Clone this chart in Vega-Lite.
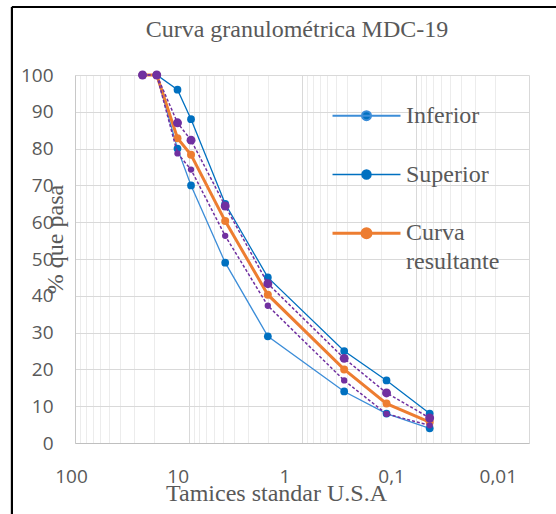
{
  "$schema": "https://vega.github.io/schema/vega-lite/v6.json",
  "width": 454,
  "height": 368,
  "autosize": {"type": "none"},
  "padding": {"left": 75, "top": 75, "right": 27, "bottom": 71},
  "background": "white",
  "title": {
    "text": "Curva granulométrica MDC-19",
    "font": "Liberation Serif",
    "fontSize": 24,
    "fontWeight": "normal",
    "color": "#595959",
    "frame": "group",
    "anchor": "middle",
    "offset": -55,
    "baseline": "alphabetic",
    "dx": -5
  },
  "data": {
    "values": [
      {"serie": "Superior", "d": 25.4, "p": 100},
      {"serie": "Superior", "d": 19.05, "p": 100},
      {"serie": "Superior", "d": 12.5, "p": 96},
      {"serie": "Superior", "d": 9.5, "p": 88},
      {"serie": "Superior", "d": 4.75, "p": 65},
      {"serie": "Superior", "d": 2.0, "p": 45},
      {"serie": "Superior", "d": 0.425, "p": 25},
      {"serie": "Superior", "d": 0.18, "p": 17},
      {"serie": "Superior", "d": 0.075, "p": 8},
      {"serie": "Inferior", "d": 25.4, "p": 100},
      {"serie": "Inferior", "d": 19.05, "p": 100},
      {"serie": "Inferior", "d": 12.5, "p": 80},
      {"serie": "Inferior", "d": 9.5, "p": 70},
      {"serie": "Inferior", "d": 4.75, "p": 49},
      {"serie": "Inferior", "d": 2.0, "p": 29},
      {"serie": "Inferior", "d": 0.425, "p": 14},
      {"serie": "Inferior", "d": 0.18, "p": 8},
      {"serie": "Inferior", "d": 0.075, "p": 4},
      {"serie": "Curva resultante", "d": 25.4, "p": 100},
      {"serie": "Curva resultante", "d": 19.05, "p": 100},
      {"serie": "Curva resultante", "d": 12.5, "p": 82.8},
      {"serie": "Curva resultante", "d": 9.5, "p": 78.3},
      {"serie": "Curva resultante", "d": 4.75, "p": 60.3},
      {"serie": "Curva resultante", "d": 2.0, "p": 40.3},
      {"serie": "Curva resultante", "d": 0.425, "p": 20},
      {"serie": "Curva resultante", "d": 0.18, "p": 10.7},
      {"serie": "Curva resultante", "d": 0.075, "p": 5.7},
      {"serie": "Tolerancia superior", "d": 25.4, "p": 100},
      {"serie": "Tolerancia superior", "d": 19.05, "p": 100},
      {"serie": "Tolerancia superior", "d": 12.5, "p": 87},
      {"serie": "Tolerancia superior", "d": 9.5, "p": 82.3},
      {"serie": "Tolerancia superior", "d": 4.75, "p": 64.4},
      {"serie": "Tolerancia superior", "d": 2.0, "p": 43.3},
      {"serie": "Tolerancia superior", "d": 0.425, "p": 23},
      {"serie": "Tolerancia superior", "d": 0.18, "p": 13.6},
      {"serie": "Tolerancia superior", "d": 0.075, "p": 6.8},
      {"serie": "Tolerancia inferior", "d": 25.4, "p": 100},
      {"serie": "Tolerancia inferior", "d": 19.05, "p": 100},
      {"serie": "Tolerancia inferior", "d": 12.5, "p": 78.7},
      {"serie": "Tolerancia inferior", "d": 9.5, "p": 74.3},
      {"serie": "Tolerancia inferior", "d": 4.75, "p": 56.3},
      {"serie": "Tolerancia inferior", "d": 2.0, "p": 37.3},
      {"serie": "Tolerancia inferior", "d": 0.425, "p": 17},
      {"serie": "Tolerancia inferior", "d": 0.18, "p": 7.9},
      {"serie": "Tolerancia inferior", "d": 0.075, "p": 4.8}
    ]
  },
  "layer": [
    {
      "mark": {"type": "rule", "color": "black", "strokeWidth": 2},
      "encoding": {
        "x": {
          "datum": 359,
          "type": "quantitative",
          "scale": {"type": "log", "domain": [0.01, 100], "reverse": true},
          "axis": {
            "orient": "bottom",
            "values": [90, 80, 70, 60, 50, 40, 30, 20, 9, 8, 7, 6, 5, 4, 3, 2, 0.9, 0.8, 0.7, 0.6, 0.5, 0.4, 0.3, 0.2, 0.09, 0.08, 0.07, 0.06, 0.05, 0.04, 0.03, 0.02],
            "grid": true,
            "gridColor": "#ececec",
            "gridWidth": 1,
            "labels": false,
            "ticks": false,
            "domain": false,
            "title": null
          }
        },
        "y": {"datum": 118.5, "type": "quantitative", "scale": {"domain": [0, 100], "nice": false}},
        "y2": {"datum": -40}
      }
    },
    {
      "mark": {"type": "rule", "color": "black", "strokeWidth": 2},
      "encoding": {
        "x": {"datum": 359, "type": "quantitative", "scale": {"type": "log", "domain": [0.01, 100], "reverse": true}, "axis": null},
        "x2": {"datum": 0.003},
        "y": {"datum": 118.5, "type": "quantitative", "scale": {"domain": [0, 100], "nice": false}}
      }
    },
    {
      "transform": [{"filter": "datum.serie === 'Inferior' || datum.serie === 'Superior'"}],
      "mark": {"type": "line", "strokeWidth": 1.3},
      "encoding": {
        "x": {
          "field": "d",
          "type": "quantitative",
          "scale": {"type": "log", "domain": [0.01, 100], "reverse": true},
          "axis": {
            "orient": "bottom",
            "values": [100, 10, 1, 0.1, 0.01],
            "grid": true,
            "gridColor": "#d9d9d9",
            "ticks": false,
            "domainColor": "#bfbfbf",
            "labelFont": "Open Sans",
            "labelFontSize": 19,
            "labelColor": "#595959",
            "labelPadding": 33,
            "labelBaseline": "middle",
            "labelFlush": false,
            "labelOverlap": false,
            "labelOffset": {"expr": "-4 - 6.8*log(100/datum.value)/LN10"},
            "labelExpr": "replace(toString(datum.value), '.', ',')",
            "title": "Tamices standar U.S.A",
            "titleFont": "Liberation Serif",
            "titleFontSize": 24,
            "titleFontWeight": "normal",
            "titleColor": "#595959",
            "titleX": 201,
            "titleY": 57,
            "titleBaseline": "alphabetic",
            "titleAlign": "center"
          }
        },
        "y": {
          "field": "p",
          "type": "quantitative",
          "scale": {"domain": [0, 100], "nice": false},
          "axis": {
            "title": "% que pasa",
            "titleFont": "Liberation Serif",
            "titleFontSize": 24,
            "titleFontWeight": "normal",
            "titleColor": "#595959",
            "titleAngle": 270,
            "titleX": -13,
            "titleY": 164,
            "titleAlign": "center",
            "titleBaseline": "alphabetic"
          }
        },
        "color": {
          "field": "serie",
          "type": "nominal",
          "scale": {"domain": ["Inferior", "Superior", "Curva resultante"], "range": ["#3C8DD8", "#0070C0", "#ED7D31"]},
          "legend": {
            "orient": "none",
            "legendX": 279.5,
            "legendY": 28.7,
            "title": null,
            "padding": 0,
            "symbolType": "M-1.172,0H1.172M0.155,0A0.155,0.155,0,1,1,-0.155,0A0.155,0.155,0,1,1,0.155,0Z",
            "symbolSize": 3364,
            "symbolStrokeWidth": 1.5,
            "labelFont": "Liberation Serif",
            "labelFontSize": 24,
            "labelColor": "#595959",
            "labelOffset": 27.5,
            "rowPadding": 34.8,
            "labelExpr": "datum.label === 'Curva resultante' ? ['Curva', 'resultante'] : datum.label",
            "encode": {
              "symbols": {
                "update": {
                  "fill": {"signal": "datum.value === 'Curva resultante' ? '#ED7D31' : '#0070C0'"},
                  "stroke": {"signal": "datum.value === 'Curva resultante' ? '#ED7D31' : (datum.value === 'Inferior' ? '#4C9BE0' : '#0070C0')"},
                  "strokeWidth": {"signal": "datum.value === 'Curva resultante' ? 3 : (datum.value === 'Inferior' ? 2 : 1.5)"},
                  "opacity": {"value": 1}
                }
              },
              "labels": {"update": {"lineHeight": {"value": 29}}}
            }
          }
        }
      }
    },
    {
      "transform": [{"filter": "datum.serie === 'Inferior' || datum.serie === 'Superior'"}],
      "mark": {"type": "circle", "size": 60, "opacity": 1, "color": "#0070C0"},
      "encoding": {
        "x": {"field": "d", "type": "quantitative", "scale": {"type": "log", "domain": [0.01, 100], "reverse": true}, "axis": null},
        "y": {"field": "p", "type": "quantitative", "scale": {"domain": [0, 100], "nice": false}}
      }
    },
    {
      "transform": [{"filter": "datum.serie === 'Curva resultante'"}],
      "mark": {"type": "line", "strokeWidth": 3},
      "encoding": {
        "x": {"field": "d", "type": "quantitative", "scale": {"type": "log", "domain": [0.01, 100], "reverse": true}, "axis": null},
        "y": {"field": "p", "type": "quantitative", "scale": {"domain": [0, 100], "nice": false}},
        "color": {"field": "serie", "type": "nominal"}
      }
    },
    {
      "transform": [{"filter": "datum.serie === 'Curva resultante'"}],
      "mark": {"type": "circle", "size": 64, "opacity": 1, "color": "#ED7D31"},
      "encoding": {
        "x": {"field": "d", "type": "quantitative", "scale": {"type": "log", "domain": [0.01, 100], "reverse": true}, "axis": null},
        "y": {"field": "p", "type": "quantitative", "scale": {"domain": [0, 100], "nice": false}}
      }
    },
    {
      "transform": [{"filter": "datum.serie === 'Tolerancia superior' || datum.serie === 'Tolerancia inferior'"}],
      "mark": {"type": "line", "strokeWidth": 1.5, "strokeDash": [3, 2], "color": "#7030A0"},
      "encoding": {
        "x": {"field": "d", "type": "quantitative", "scale": {"type": "log", "domain": [0.01, 100], "reverse": true}, "axis": null},
        "y": {"field": "p", "type": "quantitative", "scale": {"domain": [0, 100], "nice": false}},
        "detail": {"field": "serie"}
      }
    },
    {
      "transform": [{"filter": "datum.serie === 'Tolerancia superior'"}],
      "mark": {"type": "circle", "size": 80, "opacity": 1, "color": "#7030A0"},
      "encoding": {
        "x": {"field": "d", "type": "quantitative", "scale": {"type": "log", "domain": [0.01, 100], "reverse": true}, "axis": null},
        "y": {"field": "p", "type": "quantitative", "scale": {"domain": [0, 100], "nice": false}}
      }
    },
    {
      "transform": [{"filter": "datum.serie === 'Tolerancia inferior'"}],
      "mark": {"type": "circle", "size": 40, "opacity": 1, "color": "#7030A0"},
      "encoding": {
        "x": {"field": "d", "type": "quantitative", "scale": {"type": "log", "domain": [0.01, 100], "reverse": true}, "axis": null},
        "y": {"field": "p", "type": "quantitative", "scale": {"domain": [0, 100], "nice": false}}
      }
    }
  ],
  "resolve": {"axis": {"x": "independent"}},
  "config": {
    "view": {"stroke": null},
    "axisY": {
      "tickCount": 10,
      "grid": true,
      "gridColor": "#d9d9d9",
      "ticks": false,
      "domain": true,
      "domainColor": "#c8c8c8",
      "labelFont": "Open Sans",
      "labelFontSize": 19,
      "labelColor": "#595959",
      "labelPadding": 22,
      "labelFlush": false,
      "labelOverlap": false
    }
  }
}
